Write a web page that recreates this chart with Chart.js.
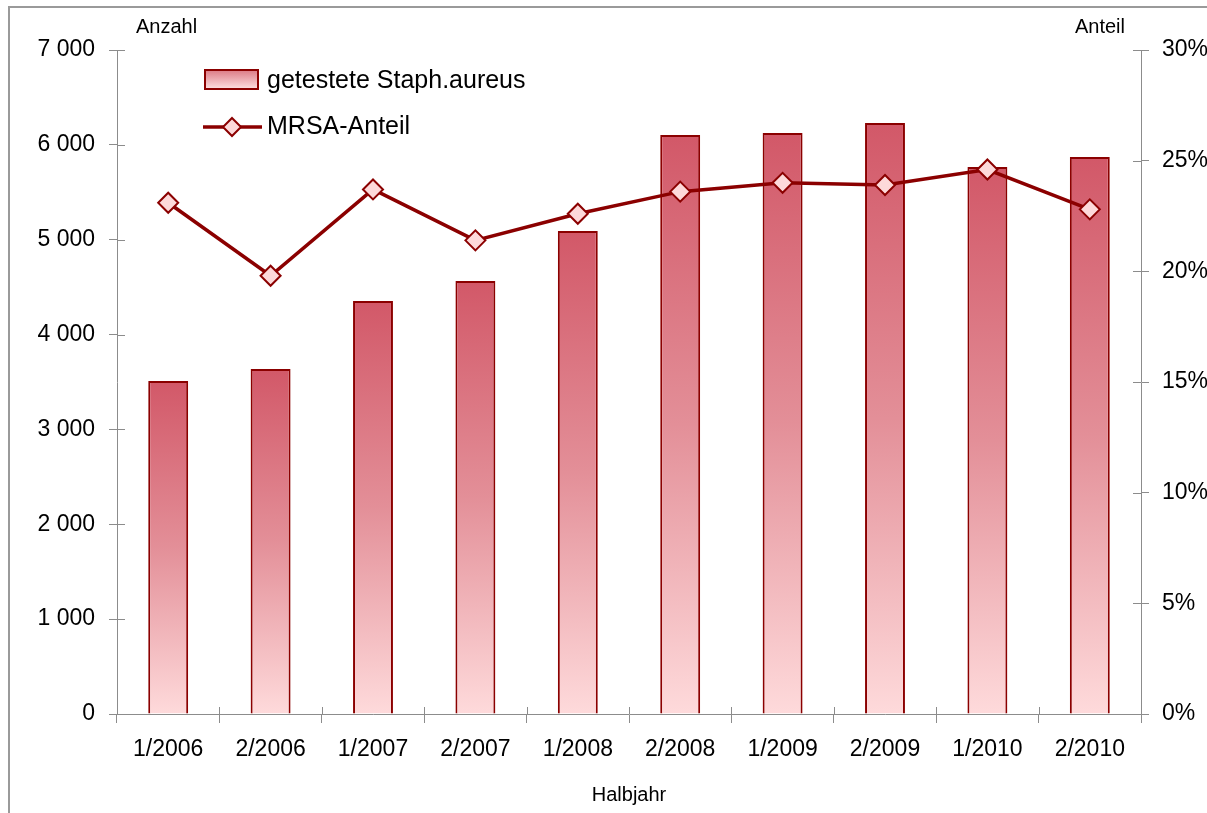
<!DOCTYPE html>
<html>
<head>
<meta charset="utf-8">
<script src="https://cdn.jsdelivr.net/npm/chart.js@4/dist/chart.umd.min.js"></script>
<style>
  html, body { margin: 0; padding: 0; background: #fff; overflow: hidden; }
  #frame { position: absolute; left: 8px; top: 6px; width: 1300px; height: 900px; border: 2px solid #9a9a9a; }
  #wrap { position: absolute; left: 0; top: 0; width: 1207px; height: 813px; }
</style>
</head>
<body>
<div id="frame"></div>
<div id="wrap"><canvas id="myChart" width="1207" height="813"></canvas></div>
<script>
const halbjahre = ["1/2006", "2/2006", "1/2007", "2/2007", "1/2008", "2/2008", "1/2009", "2/2009", "1/2010", "2/2010"];
const getestet = [3510, 3637, 4354, 4565, 5092, 6104, 6125, 6230, 5766, 5872];
const mrsaAnteil = [23.1, 19.8, 23.7, 21.4, 22.6, 23.6, 24.0, 23.9, 24.6, 22.8];
const leftTicks = [0, 1000, 2000, 3000, 4000, 5000, 6000, 7000];
const rightTicks = [0, 5, 10, 15, 20, 25, 30];

const FONT = "'Liberation Sans', Arial, sans-serif";
const DARK = "#8b0000";
const AXIS = "#8c8c8c";

/* ---------- bar gradient per bar ---------- */
function barFill(c) {
  const chart = c.chart;
  const y = chart.scales.y;
  if (!chart.chartArea || !y || c.dataIndex === undefined) return "#d86a76";
  const top = y.getPixelForValue(getestet[c.dataIndex]);
  const base = y.getPixelForValue(0);
  const g = chart.ctx.createLinearGradient(0, top, 0, base);
  g.addColorStop(0, "#d25868");
  g.addColorStop(0.5, "#e38f98");
  g.addColorStop(1, "#fedadb");
  return g;
}

function fmt(v) {
  return String(v).replace(/\B(?=(\d{3})+(?!\d))/g, " ");
}

/* ---------- inner tick stubs, axis captions, legend ---------- */
const extras = {
  id: "extras",
  afterDraw(chart) {
    const ctx = chart.ctx;
    const a = chart.chartArea;
    const x = chart.scales.x, y = chart.scales.y, y1 = chart.scales.y1;
    ctx.save();
    ctx.strokeStyle = AXIS;
    ctx.lineWidth = 1;
    ctx.beginPath();
    leftTicks.forEach(v => {
      const p = Math.round(y.getPixelForValue(v)) + 0.5;
      ctx.moveTo(a.left, p); ctx.lineTo(a.left + 8, p);
    });
    rightTicks.forEach(v => {
      const p = Math.round(y1.getPixelForValue(v)) + 0.5;
      ctx.moveTo(a.right - 8, p); ctx.lineTo(a.right, p);
    });
    for (let i = 0; i <= halbjahre.length; i++) {
      const p = Math.round(x.getPixelForValue(i - 0.5)) + 0.5;
      ctx.moveTo(p, a.bottom - 7); ctx.lineTo(p, a.bottom);
    }
    ctx.stroke();

    // axis captions
    ctx.fillStyle = "#000";
    ctx.font = "20px " + FONT;
    ctx.textBaseline = "middle";
    ctx.textAlign = "left";
    ctx.fillText("Anzahl", a.left + 19, a.top - 23);
    ctx.textAlign = "right";
    ctx.fillText("Anteil", a.right - 16, a.top - 23);

    // legend
    const lx = 205;
    const bar = chart.data.datasets[1];
    const line = chart.data.datasets[0];
    const g = ctx.createLinearGradient(0, 70, 0, 89);
    g.addColorStop(0, "#dc7a85");
    g.addColorStop(1, "#fde0e1");
    ctx.fillStyle = g;
    ctx.fillRect(lx, 70, 53, 19);
    ctx.strokeStyle = bar.borderColor;
    ctx.lineWidth = 2;
    ctx.strokeRect(lx, 70, 53, 19);

    ctx.strokeStyle = line.borderColor;
    ctx.lineWidth = 3.5;
    ctx.beginPath();
    ctx.moveTo(lx - 2, 127); ctx.lineTo(lx + 57, 127);
    ctx.stroke();
    ctx.fillStyle = line.pointBackgroundColor;
    ctx.strokeStyle = line.pointBorderColor;
    ctx.lineWidth = 2;
    ctx.beginPath();
    ctx.moveTo(lx + 27, 118); ctx.lineTo(lx + 36, 127);
    ctx.lineTo(lx + 27, 136); ctx.lineTo(lx + 18, 127);
    ctx.closePath();
    ctx.fill(); ctx.stroke();

    ctx.fillStyle = "#000";
    ctx.font = "25px " + FONT;
    ctx.textAlign = "left";
    ctx.fillText(bar.label, 267, 81);
    ctx.fillText(line.label, 267, 127);
    ctx.restore();
  }
};

const ctx = document.getElementById("myChart").getContext("2d");
const chart = new Chart(ctx, {
  type: "bar",
  data: {
    labels: halbjahre,
    datasets: [
      {
        type: "line",
        label: "MRSA-Anteil",
        data: mrsaAnteil,
        yAxisID: "y1",
        order: 0,
        borderColor: DARK,
        borderWidth: 3.5,
        tension: 0,
        pointStyle: "rectRot",
        pointRadius: 10,
        pointBorderWidth: 2,
        pointBackgroundColor: "#fdd9da",
        pointBorderColor: DARK
      },
      {
        type: "bar",
        label: "getestete Staph.aureus",
        data: getestet,
        yAxisID: "y",
        order: 1,
        backgroundColor: barFill,
        borderColor: DARK,
        borderWidth: 2,
        categoryPercentage: 1,
        barPercentage: 0.39
      }
    ]
  },
  plugins: [extras],
  options: {
    responsive: false,
    animation: false,
    layout: { padding: { top: 50, left: 0, right: 0, bottom: 0 } },
    plugins: { legend: { display: false }, tooltip: { enabled: false } },
    scales: {
      x: {
        offset: true,
        afterFit: s => { s.height = 99; },
        border: { color: AXIS, width: 1 },
        grid: { offset: true, drawOnChartArea: false, tickLength: 9, color: AXIS },
        ticks: { color: "#000", font: { family: FONT, size: 23 }, padding: 13, maxRotation: 0 },
        title: { display: true, text: "Halbjahr", color: "#000", font: { family: FONT, size: 20 }, padding: { top: 0, bottom: 6 } }
      },
      y: {
        position: "left",
        min: 0, max: 7000,
        afterFit: s => { s.width = 117; },
        afterBuildTicks: s => { s.ticks = leftTicks.map(v => ({ value: v })); },
        border: { color: AXIS, width: 1 },
        grid: { drawOnChartArea: false, tickLength: 8, color: AXIS },
        ticks: { color: "#000", font: { family: FONT, size: 23 }, padding: 14, callback: v => fmt(v) }
      },
      y1: {
        position: "right",
        min: 0, max: 30,
        afterFit: s => { s.width = 66; },
        afterBuildTicks: s => { s.ticks = rightTicks.map(v => ({ value: v })); },
        border: { color: AXIS, width: 1 },
        grid: { drawOnChartArea: false, tickLength: 8, color: AXIS },
        ticks: { color: "#000", font: { family: FONT, size: 23 }, padding: 13, callback: v => v + "%" }
      }
    }
  }
});
</script>
</body>
</html>
